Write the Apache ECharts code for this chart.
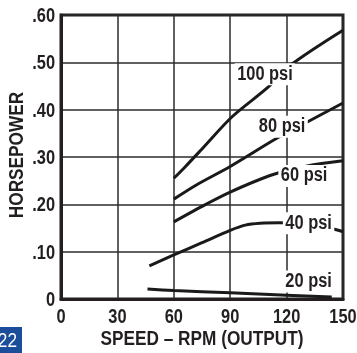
<!DOCTYPE html>
<html>
<head>
<meta charset="utf-8">
<script src="https://cdn.jsdelivr.net/npm/echarts@6/dist/echarts.min.js"></script>
<style>
html,body{margin:0;padding:0;background:#fff;}
#chart{width:357px;height:353px;}
</style>
</head>
<body>
<div id="chart"></div>
<script>
// ---- data ----
var xTicks = [0, 30, 60, 90, 120, 150];
var yTicks = [0, 0.1, 0.2, 0.3, 0.4, 0.5, 0.6];
var yTickLabels = ['0', '.10', '.20', '.30', '.40', '.50', '.60'];
var xTitle = 'SPEED – RPM (OUTPUT)';
var yTitle = 'HORSEPOWER';

var psi100 = [[60, 0.255], [66, 0.279], [75, 0.317], [91, 0.385], [110, 0.447], [122, 0.494], [150, 0.568]];
var psi80  = [[60, 0.211], [72, 0.241], [90, 0.280], [115, 0.340], [131, 0.374], [150, 0.414]];
var psi60  = [[60, 0.163], [77, 0.200], [90, 0.226], [112, 0.262], [131, 0.281], [150, 0.292]];
var psi40  = [[47, 0.070], [60, 0.093], [75, 0.119], [90, 0.145], [98, 0.156], [106, 0.160], [116, 0.161], [130, 0.158], [145, 0.148], [150, 0.142]];
var psi20  = [[46, 0.021], [60, 0.018], [90, 0.013], [120, 0.008], [144, 0.004]];

var labelText = ['100 psi', '80 psi', '60 psi', '40 psi', '20 psi'];
var labelX = [108.5, 117.6, 129.3, 131.7, 131.7];
var labelY = [0.475, 0.364, 0.260, 0.160, 0.037];

var pageNumber = '22';

// ---- chart ----
var FAMILY = '"Liberation Sans", Arial, sans-serif';
var INK = '#231f20';
var NARROW = 0.82;   // condensed look

function lineSeries(name, data) {
  return {
    name: name, type: 'line', data: data, smooth: 0.3, symbol: 'none',
    lineStyle: { color: '#1a1a1a', width: 3 }, z: 3, silent: true
  };
}

var chart = echarts.init(document.getElementById('chart'), null, { renderer: 'canvas' });
chart.setOption({
  animation: false,
  backgroundColor: '#fff',
  grid: { left: 61, right: 14, top: 15, bottom: 54, show: true, borderWidth: 3, borderColor: INK,
          containLabel: false, outerBoundsMode: 'none' },
  xAxis: {
    type: 'value', min: 0, max: 150, interval: 30,
    axisLine: { show: true, lineStyle: { color: INK, width: 3 } },
    axisTick: { show: false },
    axisLabel: { show: false },
    splitLine: { show: true, lineStyle: { color: '#2b2b2b', width: 1.5 } }
  },
  yAxis: {
    type: 'value', min: 0, max: 0.6, interval: 0.1,
    axisLine: { show: true, lineStyle: { color: INK, width: 3 } },
    axisTick: { show: false },
    axisLabel: { show: false },
    splitLine: { show: true, lineStyle: { color: '#2b2b2b', width: 1.5 } }
  },
  series: [
    lineSeries('100 psi', psi100),
    lineSeries('80 psi', psi80),
    lineSeries('60 psi', psi60),
    lineSeries('40 psi', psi40),
    lineSeries('20 psi', psi20)
  ]
});

function txt(text, x, y, size, align, vAlign, extra) {
  var el = {
    type: 'text', x: x, y: y, scaleX: NARROW, z: 20, silent: true,
    style: { text: text, fill: INK, font: 'bold ' + size + 'px ' + FAMILY, align: align, verticalAlign: vAlign }
  };
  if (extra) {
    for (var k in extra.style || {}) el.style[k] = extra.style[k];
    if (extra.rotation != null) el.rotation = extra.rotation;
  }
  return el;
}

var toPx = function (pt) { return chart.convertToPixel({ gridIndex: 0 }, pt); };
var origin = toPx([0, 0]);
var corner = toPx([150, 0.6]);
var g = [];

xTicks.forEach(function (v) {
  var p = toPx([v, 0]);
  g.push(txt(String(v), p[0], p[1] + 18, 20, 'center', 'middle'));
});
yTicks.forEach(function (v, i) {
  var p = toPx([0, v]);
  g.push(txt(yTickLabels[i], p[0] - 6, p[1] + 1.5, 20, 'right', 'middle'));
});
g.push(txt(xTitle, (origin[0] + corner[0]) / 2, origin[1] + 40, 21, 'center', 'middle'));
g.push(txt(yTitle, 17, (origin[1] + corner[1]) / 2 - 2, 21, 'center', 'middle', { rotation: Math.PI / 2 }));

labelText.forEach(function (t, i) {
  var p = toPx([labelX[i], labelY[i]]);
  g.push(txt(t, p[0], p[1], 20, 'center', 'middle',
    { style: { backgroundColor: '#fff', padding: [1, 3, 1, 3] } }));
});

g.push({ type: 'rect', left: 0, top: 327, shape: { width: 22, height: 26 }, style: { fill: '#1b4d9b' }, z: 30 });
g.push({ type: 'text', x: 17, y: 341, scaleX: NARROW, z: 31,
  style: { text: pageNumber, fill: '#fff', font: '21px ' + FAMILY, align: 'right', verticalAlign: 'middle' } });

chart.setOption({ graphic: g });
</script>
</body>
</html>
